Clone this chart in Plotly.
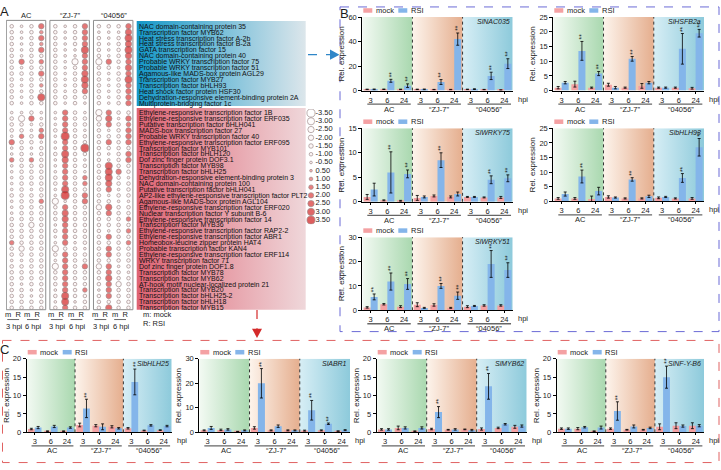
import plotly.graph_objects as go

W, H = 721, 470
FONT = "Liberation Sans, Arial, Helvetica, sans-serif"
INK = "#1c1c1c"
MOCK = "#f4a1a3"
RSI = "#84b5ea"

# ---------------- Panel A data ----------------
cultivars = ["AC", "“ZJ-7”", "“04056”"]
pair_labels = ["3 hpi", "6 hpi"]

blue_genes = [
    "NAC domain-containing protein 35",
    "Transcription factor MYB62",
    "Heat stress transcription factor A-2b",
    "Heat stress transcription factor B-2a",
    "GATA transcription factor 15",
    "NAC domain-containing protein 40",
    "Probable WRKY transcription factor 75",
    "Probable WRKY transcription factor 51",
    "Agamous-like MADS-box protein AGL29",
    "Transcription factor MYB27",
    "Transcription factor bHLH93",
    "Heat shock factor protein HSF30",
    "Dehydration-responsive element-binding protein 2A",
    "Multiprotein-bridging factor 1c",
]
red_genes = [
    "Ethylene-responsive transcription factor 1B",
    "Ethylene-responsive transcription factor ERF035",
    "Putative transcription factor bHLH041",
    "MADS-box transcription factor 27",
    "Probable WRKY transcription factor 40",
    "Ethylene-responsive transcription factor ERF095",
    "Transcription factor MYB101",
    "Transcription factor bHLH120",
    "Dof zinc finger protein DOF3.1",
    "Transcription factor MYB98",
    "Transcription factor bHLH25",
    "Dehydration-responsive element-binding protein 3",
    "NAC domain-containing protein 100",
    "Putative transcription factor bHLH041",
    "AP2-like ethylene-responsive transcription factor PLT2",
    "Agamous-like MADS-box protein AGL104",
    "Ethylene-responsive transcription factor ERF020",
    "Nuclear transcription factor Y subunit B-6",
    "Ethylene-responsive transcription factor 14",
    "Transcription factor MYB36",
    "Ethylene-responsive transcription factor RAP2-2",
    "Ethylene-responsive transcription factor ABR1",
    "Homeobox-leucine zipper protein HAT4",
    "Probable transcription factor KAN4",
    "Ethylene-responsive transcription factor ERF114",
    "WRKY transcription factor 71",
    "Dof zinc finger protein DOF1.8",
    "Transcription factor MYB78",
    "Transcription factor MYB62",
    "AT-hook motif nuclear-localized protein 21",
    "Transcription factor MYB20",
    "Transcription factor bHLH25-2",
    "Transcription factor bHLH18",
    "Transcription factor MYB15",
]
# columns: AC m3 R3 m6 R6 | ZJ-7 m3 R3 m6 R6 | 04056 m3 R3 m6 R6
blue_vals = [
    [-1, -0.5, -1, 2, -1, -0.5, -1, 2, -1, -1, -1, 2],
    [-1, -0.5, -1, 1, -1, -0.5, -1, 2, -0.5, -0.5, -0.5, 2.5],
    [-1, -0.5, -1, 2, -1, -0.5, -1, 2, -1, -0.5, -1, 3],
    [-1, -0.5, -1, 1, -1, -0.5, -1, 2, -1, -0.5, -1, 2.5],
    [-1, -0.5, -1, 2, -1, -0.5, -0.5, 3, -1, -0.5, -1, 3],
    [-1, -0.5, -1, -1, -1, -0.5, -0.5, 2, -1, -0.5, -1, 2.5],
    [-1, 2, -1, 1.5, -1, -0.5, -2.5, 2, -2.5, 2, -1, 2],
    [-1, -0.5, -1, -1, -1, -0.5, -1, 2, -1, -1, -0.5, 2.5],
    [-1, -1, -1, 2, -1, -0.5, -1, 2.5, -1, -0.5, -1, 2],
    [-1, -0.5, -1, -1, -1, -0.5, -1, 3, -1, -0.5, -1, 3],
    [-1, -0.5, -1, 1, -1, -0.5, -1, 2.5, -1, -0.5, -1, 2],
    [-1, -0.5, -1, -1, -1, -0.5, -1, 2, -1, -0.5, -1, 2],
    [-1, -0.5, -1, 3, -1, -1, -1, -1, -1, -0.5, -1, 2],
    [-1, -0.5, -1, -1, -1, -0.5, -1, -0.5, -1, -0.5, -1, 2],
]
red_vals = [
    [-0.5, -0.5, -1, -0.5, -0.5, 2, -1, -0.5, -2.5, 2, -1, -1],
    [-1, -2.5, 2, -0.5, -0.5, 2, -1, -1, -2, 2.5, -0.5, 2],
    [-1, -1, -0.5, -1, -0.5, 2, -1, -1, -1, 2, -1, 1.5],
    [-1, -1, -0.5, 1.5, -1, 2, -1, -0.5, -1, -0.5, -1, 2],
    [-0.5, 1.5, -1, 2, -0.5, 3.5, -1, -1, -1, -1, -1, 2],
    [2, -1, -1, -0.5, -0.5, 2, -1, -1, -1, 2, -1, 2],
    [-0.5, -1, -0.5, -1, -0.5, 2, -1, 3.5, -1, -1, -1, -1],
    [-0.5, -1, -0.5, -1, -1, 3, -1, -1, -1, -0.5, -1, 2],
    [1.5, -1, 1.5, -1, -0.5, 2.5, -1, -0.5, -1, -0.5, -1, 2],
    [-0.5, -1, -1, -1, -0.5, 2, -1, -1, -1, 3, -1, -1],
    [-0.5, -1, -1, -1, -0.5, 2, -1, -0.5, -1, 3, 2, -1],
    [-0.5, -1, -1, -1, -1, 2, -1, 1.5, -1, 3, -1, -0.5],
    [-0.5, -1, -1, -1, -1, 2, -1, 1.5, -1, 2.5, -1, -1],
    [-0.5, -1, -0.5, -1, -0.5, 3, -1, -1, -1, 2, -0.5, -1],
    [-1, -1, -1, -1, -0.5, 3.5, -1, 2, -1, -0.5, -1, -1],
    [-0.5, -1, -1, 1.5, -2.5, -0.5, -1, 2, -1, -1, -0.5, -0.5],
    [-0.5, -1, -1, -1, -1, 2, -1, -1, -2, 2.5, -1, -1],
    [-0.5, -1, -1, -1, -1, 2.5, -1, -1, -1, 2, -1, -1],
    [-1, -1, -1, -1, -1, 2.5, -1, -1, -1, -1, -1, 1.5],
    [-1, -1, -2, -1, -0.5, 2, -1, -1, -1, -1, -1, -1],
    [-1, -1, -1, -1, -1, 2, -1, -1, -1, -0.5, -1, 1.5],
    [-1, -1, -1, -1, -0.5, 2, -1, -1, -1, 2, -1, -1],
    [1.5, -1, -1, -1, -0.5, 2, -0.5, -1, -1, -1, -1, 1.5],
    [-1, -2, -1, -1, -2.5, -1, -1, -0.5, -1, 2, -1, -1],
    [-1, -1, -1, -1, -1, 2, -1, -1, -1, 2, -1, -1],
    [-0.5, -0.5, -1, -1, -0.5, 2, -1, -1, -1, -1, -1, -1],
    [-1, -1, -1, -1, -2.5, 2, -1, 2, -2, 2, -0.5, -1],
    [-1, -1, -1, -1, -1, 2, -1, -1, -1, 2, -1, -0.5],
    [-1, -1, -1, -1, -1, 2, -1, -1, -1, 2.5, -1, -1],
    [-1, -0.5, -1, -1, -1, 2, -1, -1, -1, 2, -2, -1],
    [-1, -1, -0.5, -1, -0.5, 2, -1, 1.5, -0.5, 2, -1, -1],
    [-1, -1, -0.5, -1, -1, 3, -1, -1, -1, 2, -1, -1],
    [-1, -1, -1, -1, -0.5, 3, -0.5, -1, -1, -1, -1, -1],
    [-1, -1, -1, -1, -1, 2, -1, -1, -1, 2.5, -1, -1],
]
legend_vals = [-3.5, -3.0, -2.5, -2.0, -1.5, -1.0, -0.5, 0.5, 1.0, 1.5, 2.0, 2.5, 3.0, 3.5]
legend_labels = ["-3.50", "-3.00", "-2.50", "-2.00", "-1.50", "-1.00", "-0.50",
                 "0.50", "1.00", "1.50", "2.00", "2.50", "3.00", "3.50"]

# ---------------- Panels B / C data ----------------
hpi_ticks = ["3", "6", "24"] * 3

nac035_mock = [1.0, 1.1, 1.0, 1.0, 0.8, 0.8, 1.0, 0.8, 0.5]
nac035_mock_err = [0.2, 0.2, 0.2, 0.2, 0.2, 0.2, 0.2, 0.2, 0.2]
nac035_rsi = [1.0, 8.0, 4.0, 1.0, 7.0, 42.0, 1.2, 12.0, 22.0]
nac035_rsi_err = [0.3, 1.2, 1.5, 0.3, 2.0, 5.0, 0.3, 3.0, 4.0]
nac035_sig = [0, 1, 1, 0, 1, 1, 0, 1, 1]

hsfb2a_mock = [1.0, 2.2, 1.0, 2.0, 1.0, 1.6, 1.0, 1.0, 0.8]
hsfb2a_mock_err = [0.4, 1.0, 0.2, 0.5, 0.2, 0.8, 0.2, 0.2, 0.3]
hsfb2a_rsi = [2.7, 13.5, 5.8, 1.0, 10.8, 2.7, 1.0, 14.2, 19.5]
hsfb2a_rsi_err = [0.4, 3.2, 0.7, 0.4, 0.8, 0.4, 0.2, 5.2, 1.3]
hsfb2a_sig = [0, 1, 1, 0, 1, 0, 0, 1, 1]

wrky75_mock = [1.0, 0.3, 0.2, 0.8, 1.2, 1.0, 1.0, 0.9, 0.9]
wrky75_mock_err = [0.5, 0.1, 0.1, 0.5, 0.2, 0.2, 0.1, 0.1, 0.2]
wrky75_rsi = [2.5, 6.0, 5.7, 1.0, 8.5, 1.6, 1.0, 4.5, 4.8]
wrky75_rsi_err = [1.3, 4.2, 0.8, 0.2, 1.5, 0.4, 0.1, 0.8, 0.7]
wrky75_sig = [0, 1, 1, 0, 1, 0, 0, 1, 1]

bhlh93_mock = [1.0, 1.0, 0.8, 1.5, 1.0, 1.0, 1.2, 1.0, 1.0]
bhlh93_mock_err = [0.3, 0.3, 1.0, 0.4, 0.2, 0.2, 0.3, 0.2, 0.3]
bhlh93_rsi = [2.5, 8.5, 3.5, 1.3, 7.5, 1.7, 1.5, 8.0, 18.5]
bhlh93_rsi_err = [0.7, 2.2, 1.3, 0.2, 0.6, 0.4, 0.2, 1.5, 3.0]
bhlh93_sig = [0, 1, 0, 0, 1, 0, 0, 1, 1]

wrky51_mock = [1.2, 2.5, 1.5, 2.3, 2.2, 1.0, 1.5, 2.0, 2.0]
wrky51_mock_err = [0.3, 0.3, 0.4, 0.8, 0.5, 0.2, 0.4, 0.3, 0.3]
wrky51_rsi = [5.5, 11.8, 10.8, 1.0, 10.0, 6.0, 1.8, 19.0, 16.5]
wrky51_rsi_err = [1.2, 3.5, 2.2, 0.2, 1.0, 1.5, 0.2, 5.5, 3.0]
wrky51_sig = [1, 1, 1, 0, 1, 1, 0, 1, 1]

bhlh25_mock = [0.9, 0.3, 0.3, 2.0, 1.8, 1.5, 1.1, 0.5, 0.6]
bhlh25_mock_err = [0.2, 0.1, 0.1, 0.5, 0.3, 0.3, 0.2, 0.1, 0.1]
bhlh25_rsi = [1.3, 1.6, 1.3, 6.5, 1.5, 1.1, 13.7, 1.9, 1.7]
bhlh25_rsi_err = [0.3, 0.3, 0.2, 2.5, 0.8, 0.2, 3.5, 0.2, 0.2]
bhlh25_sig = [0, 0, 0, 1, 0, 0, 1, 0, 0]

abr1_mock = [0.8, 1.0, 0.3, 1.8, 0.8, 0.8, 0.7, 0.8, 0.5]
abr1_mock_err = [0.2, 0.3, 0.1, 0.5, 0.2, 0.2, 0.2, 0.2, 0.1]
abr1_rsi = [1.8, 1.2, 0.8, 20.0, 2.5, 0.8, 9.0, 3.5, 0.9]
abr1_rsi_err = [0.6, 0.3, 0.2, 6.0, 0.5, 0.2, 4.0, 0.3, 0.2]
abr1_sig = [0, 0, 0, 1, 0, 0, 1, 1, 0]

myb62_mock = [0.8, 1.2, 0.3, 0.9, 0.7, 0.8, 0.9, 1.2, 1.5]
myb62_mock_err = [0.2, 0.5, 0.1, 0.2, 0.1, 0.1, 0.3, 0.2, 0.4]
myb62_rsi = [0.8, 1.2, 1.2, 5.5, 0.8, 0.6, 12.5, 2.2, 1.7]
myb62_rsi_err = [0.2, 0.3, 0.3, 1.5, 0.2, 0.2, 3.5, 0.2, 0.3]
myb62_sig = [0, 0, 0, 1, 0, 0, 1, 0, 0]

nfyb6_mock = [1.0, 1.0, 0.3, 1.0, 0.7, 0.7, 1.5, 1.8, 1.8]
nfyb6_mock_err = [0.2, 0.3, 0.1, 0.2, 0.1, 0.1, 0.8, 0.8, 0.8]
nfyb6_rsi = [1.0, 1.4, 1.3, 5.8, 1.6, 1.2, 15.0, 1.7, 1.8]
nfyb6_rsi_err = [0.2, 0.2, 0.4, 2.5, 0.4, 0.2, 3.0, 0.3, 0.3]
nfyb6_sig = [0, 0, 0, 1, 0, 0, 1, 0, 0]

# ---------------- helpers ----------------
fig = go.Figure()
shapes, annos, layout = [], [], {}


def fx(p):
    return p / W


def fy(p):
    return 1 - p / H


def grad_box(xa, ya, x0, x1, y0, y1, c0, c1):
    fig.add_trace(go.Scatter(
        x=[x0, x1, x1, x0, x0], y=[y0, y0, y1, y1, y0], xaxis=xa, yaxis=ya,
        mode="lines", line=dict(width=0, color="rgba(0,0,0,0)"), fill="toself",
        fillgradient=dict(type="horizontal", colorscale=[[0, c0], [1, c1]]),
        hoverinfo="skip", showlegend=False))


def note(x, y, s, size=7.5, xref="x", yref="y", xanchor="center", yanchor="middle", **kw):
    annos.append(dict(x=x, y=y, xref=xref, yref=yref, text=s, showarrow=False,
                      xanchor=xanchor, yanchor=yanchor,
                      font=dict(size=size, color=INK, family=FONT), **kw))


def line(x0, y0, x1, y1, color, width=1, dash=None, xref="x", yref="y"):
    d = dict(type="line", x0=x0, y0=y0, x1=x1, y1=y1, xref=xref, yref=yref,
             line=dict(color=color, width=width))
    if dash:
        d["line"]["dash"] = dash
    shapes.append(d)


# ---------------- canvas (pixel space) ----------------
layout["xaxis"] = dict(domain=[0, 1], range=[0, W], visible=False, fixedrange=True)
layout["yaxis"] = dict(domain=[0, 1], range=[H, 0], visible=False, fixedrange=True)
grad_box("x", "y", 136.7, 305.7, 17.3, 104.0, "#1497c7", "#dce6eb")
grad_box("x", "y", 136.7, 305.7, 106.0, 311.7, "#de6272", "#efd7da")

# dashed frames
shapes.append(dict(type="rect", xref="x", yref="y", x0=340, x1=719, y0=3, y1=334,
                   line=dict(color="#6b6bd6", width=1, dash="dash")))
shapes.append(dict(type="rect", xref="x", yref="y", x0=2.5, x1=719, y0=343, y1=467.5,
                   line=dict(color="#e06262", width=1, dash="dash")))
# arrows
line(308, 51.7, 331, 51.7, "#2f86c8", 1.2, "dash")
shapes.append(dict(type="path", xref="x", yref="y", path="M 330 46.5 L 339.5 51.7 L 330 56.9 Z",
                   fillcolor="#2f86c8", line=dict(width=0)))
line(257, 312, 257, 331, "#d42a2a", 1.2, "dash")
shapes.append(dict(type="path", xref="x", yref="y", path="M 252 331 L 262 331 L 257 340.5 Z",
                   fillcolor="#d42a2a", line=dict(width=0)))

# panel letters
note(4, 8, "A", 13)
note(344, 10, "B", 13)
note(4, 352, "C", 13)
note(141, 316.7, "m: mock", 7.5, xanchor="left")
note(141, 325.7, "R: RSI", 7.5, xanchor="left")

# ---------------- Panels B/C bar charts ----------------
region_cols = [("#f3faf3", "#a9d8af"), ("#fdf4ec", "#e5ae8e"), ("#d7eef5", "#8dcadb")]
charts = [
    ("SlNAC035", nac035_mock, nac035_mock_err, nac035_rsi, nac035_rsi_err, nac035_sig, 60, 20, (362.3, 512.7, 13.3, 88.3)),
    ("SlHSFB2a", hsfb2a_mock, hsfb2a_mock_err, hsfb2a_rsi, hsfb2a_rsi_err, hsfb2a_sig, 25, 5, (553.3, 704.0, 13.3, 88.3)),
    ("SlWRKY75", wrky75_mock, wrky75_mock_err, wrky75_rsi, wrky75_rsi_err, wrky75_sig, 15, 5, (362.3, 512.7, 126.7, 201.7)),
    ("SlbHLH93", bhlh93_mock, bhlh93_mock_err, bhlh93_rsi, bhlh93_rsi_err, bhlh93_sig, 25, 5, (553.3, 704.0, 126.7, 201.2)),
    ("SlWRKY51", wrky51_mock, wrky51_mock_err, wrky51_rsi, wrky51_rsi_err, wrky51_sig, 30, 10, (362.3, 512.7, 237.7, 312.3)),
    ("SlbHLH25", bhlh25_mock, bhlh25_mock_err, bhlh25_rsi, bhlh25_rsi_err, bhlh25_sig, 20, 5, (26.7, 171.7, 361.7, 436.7)),
    ("SlABR1", abr1_mock, abr1_mock_err, abr1_rsi, abr1_rsi_err, abr1_sig, 30, 10, (199.3, 350.0, 361.7, 436.7)),
    ("SlMYB62", myb62_mock, myb62_mock_err, myb62_rsi, myb62_rsi_err, myb62_sig, 20, 5, (376.7, 526.7, 361.7, 436.7)),
    ("SlNF-Y-B6", nfyb6_mock, nfyb6_mock_err, nfyb6_rsi, nfyb6_rsi_err, nfyb6_sig, 20, 5, (556.7, 704.0, 361.7, 436.7)),
]
xs = list(range(9))
BW = 0.42

# background subplots first (drawn underneath)
for k, ch in enumerate(charts):
    gene, m, me, r, re_, sig, ymax, dtick, (x0, x1, y0, y1) = ch
    bid = 2 + k
    layout[f"xaxis{bid}"] = dict(domain=[fx(x0), fx(x1)], range=[-0.5, 8.5], visible=False,
                                 fixedrange=True, anchor=f"y{bid}")
    layout[f"yaxis{bid}"] = dict(domain=[fy(y1), fy(y0)], range=[0, ymax], visible=False,
                                 fixedrange=True, anchor=f"x{bid}")
    for ri, (c0, c1) in enumerate(region_cols):
        grad_box(f"x{bid}", f"y{bid}", ri * 3 - 0.5, ri * 3 + 2.5, 0, ymax, c0, c1)

for k, ch in enumerate(charts):
    gene, m, me, r, re_, sig, ymax, dtick, (x0, x1, y0, y1) = ch
    mid = 11 + k
    xa, ya = f"x{mid}", f"y{mid}"
    ph = y1 - y0
    layout[f"xaxis{mid}"] = dict(
        domain=[fx(x0), fx(x1)], range=[-0.5, 8.5], anchor=ya, tickmode="array",
        tickvals=xs, ticktext=hpi_ticks, showline=True, linecolor="black", linewidth=1,
        ticks="outside", ticklen=2, tickcolor="black", tickfont=dict(size=7.5, color=INK),
        showgrid=False, zeroline=False, fixedrange=True)
    layout[f"yaxis{mid}"] = dict(
        domain=[fy(y1), fy(y0)], range=[0, ymax], anchor=xa, tick0=0, dtick=dtick,
        showline=True, linecolor="black", linewidth=1, ticks="outside", ticklen=3,
        tickcolor="black", tickfont=dict(size=7.5, color=INK),
        title=dict(text="Rel. expression", font=dict(size=8, color=INK), standoff=2),
        showgrid=False, zeroline=False, fixedrange=True)
    fig.add_trace(go.Bar(x=xs, y=m, width=BW, offset=-BW, xaxis=xa, yaxis=ya,
                         marker=dict(color=MOCK, line=dict(width=0)),
                         error_y=dict(type="data", array=me, color="black", thickness=0.8, width=1.5),
                         hoverinfo="skip", showlegend=False))
    fig.add_trace(go.Bar(x=xs, y=r, width=BW, offset=0, xaxis=xa, yaxis=ya,
                         marker=dict(color=RSI, line=dict(width=0)),
                         error_y=dict(type="data", array=re_, color="black", thickness=0.8, width=1.5),
                         hoverinfo="skip", showlegend=False))
    for s in (2.5, 5.5):
        line(s, 0, s, 1, "#333333", 1, "dot", xref=xa, yref=f"{ya} domain")
    for ri, cv in enumerate(cultivars):
        line(ri * 3 - 0.2, -13.7 / ph, ri * 3 + 2.4, -13.7 / ph, "#666666", 1.3,
             xref=xa, yref=f"{ya} domain")
        note(ri * 3 + 1.1, -19.0 / ph, cv, 7.5, xref=xa, yref=f"{ya} domain")
    note(1, 0, "hpi", 7.5, xref=f"{xa} domain", yref=f"{ya} domain", xanchor="left",
         yanchor="top", xshift=3, yshift=-2)
    note(1, 1, f"<i>{gene}</i>", 7, xref=f"{xa} domain", yref=f"{ya} domain",
         xanchor="right", yanchor="top", xshift=-1, yshift=1)
    for i in range(9):
        if sig[i]:
            note(i + BW / 2, r[i] + re_[i], "**", 6.5, xref=xa, yref=ya, yanchor="bottom",
                 textangle=-90)
    ly = y0 - 6.7
    shapes.append(dict(type="rect", xref="x", yref="y", x0=x0 + 1, x1=x0 + 10, y0=ly - 2.3,
                       y1=ly + 2.3, fillcolor=MOCK, line=dict(width=0)))
    note(x0 + 11.5, ly, "mock", 7.5, xanchor="left")
    shapes.append(dict(type="rect", xref="x", yref="y", x0=x0 + 36, x1=x0 + 45, y0=ly - 2.3,
                       y1=ly + 2.3, fillcolor=RSI, line=dict(width=0)))
    note(x0 + 46.5, ly, "RSI", 7.5, xanchor="left")

# ---------------- Panel A dot matrix ----------------
GSTEP = 4.42
RED_START = 14.6
genes = blue_genes + red_genes
rows = [float(i) for i in range(len(blue_genes))] + [RED_START + i for i in range(len(red_genes))]
vals = blue_vals + red_vals
dx, dy, dv = [], [], []
for ri, row in enumerate(vals):
    for ci, v in enumerate(row):
        dx.append((ci // 4) * GSTEP + ci % 4)
        dy.append(rows[ri])
        dv.append(v)

CSCALE = [[0, "#ffffff"], [0.42, "#fbeeee"], [0.5, "#f4c8c8"], [0.57, "#ec8e8e"],
          [0.72, "#e04646"], [1, "#cf1a1a"]]


def dot_size(v):
    return 1.8 + 1.8 * abs(v)


layout["xaxis20"] = dict(domain=[fx(6), fx(134)], range=[-0.58, 12.4], visible=False,
                         anchor="y20", fixedrange=True)
layout["yaxis20"] = dict(domain=[fy(311.7), fy(16.7)], range=[47.93, -0.995], anchor="x20",
                         side="right", tickmode="array", tickvals=rows, ticktext=genes,
                         tickfont=dict(size=7, color="#111111"), ticks="", showline=False,
                         showgrid=False, zeroline=False, ticklabelstandoff=4, fixedrange=True)
fig.add_trace(go.Scatter(x=dx, y=dy, xaxis="x20", yaxis="y20", mode="markers",
                         marker=dict(size=[dot_size(v) for v in dv], color=dv, colorscale=CSCALE,
                                     cmin=-3.5, cmax=3.5, line=dict(color="#7a5e5e", width=0.7)),
                         hoverinfo="skip", showlegend=False))
for g, cv in enumerate(cultivars):
    shapes.append(dict(type="rect", xref="x20", yref="y20 domain", x0=g * GSTEP - 0.55,
                       x1=g * GSTEP + 3.45, y0=0, y1=1, line=dict(color="#8c8c8c", width=1)))
    note(g * GSTEP + 1.5, 1, cv, 7.5, xref="x20", yref="y20 domain", yshift=5)
    for p in range(2):
        pc = g * GSTEP + 2 * p + 0.5
        note(pc, fy(316.7), "m  R", 7.5, xref="x20", yref="paper", xshift=-4)
        line(pc - 0.95, fy(321.7), pc + 0.25, fy(321.7), "#444444", 0.8, xref="x20", yref="paper")
        note(pc, fy(328.3), pair_labels[p], 7.5, xref="x20", yref="paper", xshift=-2.5)

# size/colour legend
lidx = list(range(len(legend_vals)))
layout["xaxis21"] = dict(domain=[fx(306), fx(340)], range=[-0.5, 2.9], visible=False,
                         anchor="y21", fixedrange=True)
layout["yaxis21"] = dict(domain=[fy(224.5), fy(107)], range=[13.5, -0.5], visible=False,
                         anchor="x21", fixedrange=True)
fig.add_trace(go.Scatter(x=[0] * len(lidx), y=lidx, xaxis="x21", yaxis="y21", mode="markers",
                         marker=dict(size=[dot_size(v) for v in legend_vals], color=legend_vals,
                                     colorscale=CSCALE, cmin=-3.5, cmax=3.5,
                                     line=dict(color="#7a5e5e", width=0.7)),
                         hoverinfo="skip", showlegend=False))
fig.add_trace(go.Scatter(x=[0.45] * len(lidx), y=lidx, xaxis="x21", yaxis="y21", mode="text",
                         text=legend_labels, textposition="middle right",
                         textfont=dict(size=7.5, color=INK, family=FONT),
                         hoverinfo="skip", showlegend=False))

layout.update(dict(width=W, height=H, margin=dict(l=0, r=0, t=0, b=0), paper_bgcolor="white",
                   plot_bgcolor="rgba(0,0,0,0)", showlegend=False, barmode="overlay",
                   hovermode=False, font=dict(family=FONT, size=8, color=INK),
                   shapes=shapes, annotations=annos))
fig.update_layout(**layout)
fig.write_html("out.html", config={"displayModeBar": False})
